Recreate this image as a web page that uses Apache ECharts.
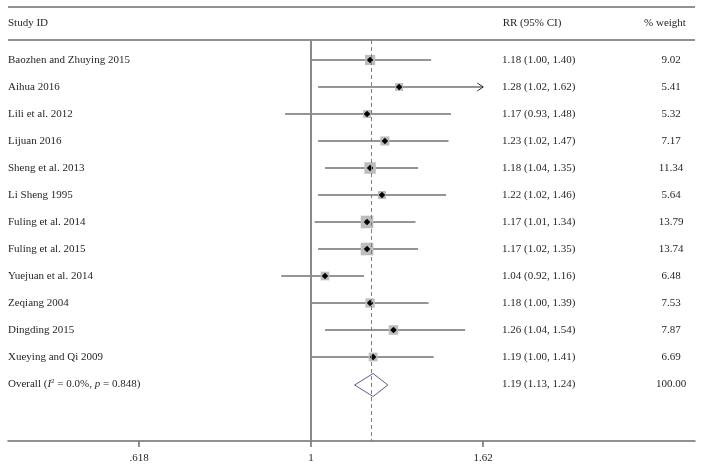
<!DOCTYPE html>
<html>
<head>
<meta charset="utf-8">
<title>Forest plot</title>
<script src="https://cdn.jsdelivr.net/npm/echarts@6/dist/echarts.min.js"></script>
<style>
  html, body { margin: 0; padding: 0; background: #fff; }
  #chart { width: 703px; height: 468px; }
</style>
</head>
<body>
<div id="chart"></div>
<script>
// 研究数据
var studies = ['Baozhen and Zhuying 2015', 'Aihua 2016', 'Lili et al. 2012', 'Lijuan 2016',
  'Sheng et al. 2013', 'Li Sheng 1995', 'Fuling et al. 2014', 'Fuling et al. 2015',
  'Yuejuan et al. 2014', 'Zeqiang 2004', 'Dingding 2015', 'Xueying and Qi 2009']
var rr = [1.18, 1.28, 1.17, 1.23, 1.18, 1.22, 1.17, 1.17, 1.04, 1.18, 1.26, 1.19]
var lower = [1.00, 1.02, 0.93, 1.02, 1.04, 1.02, 1.01, 1.02, 0.92, 1.00, 1.04, 1.00]
var upper = [1.40, 1.62, 1.48, 1.47, 1.35, 1.46, 1.34, 1.35, 1.16, 1.39, 1.54, 1.41]
var weight = ['9.02', '5.41', '5.32', '7.17', '11.34', '5.64', '13.79', '13.74', '6.48', '7.53', '7.87', '6.69']

var overallRR = 1.19
var overallLower = 1.13
var overallUpper = 1.24
var overallWeight = '100.00'

var tickValues = [0.618, 1, 1.62]
var tickLabels = ['.618', '1', '1.62']

var FONT = '11px "Liberation Serif", "DejaVu Serif", serif'
var TEXT = '#231f20'

function fmt(v) { return v.toFixed(2) }

var studyData = rr.map(function (v, i) {
  return [Math.log(v), Math.log(lower[i]), Math.log(upper[i]), i, parseFloat(weight[i])]
})

var chart = echarts.init(document.getElementById('chart'))

var option = {
  animation: false,
  backgroundColor: '#fff',
  grid: { left: 8, right: 8, top: 40, bottom: 27 },
  xAxis: {
    type: 'value',
    min: -0.8487,
    max: 1.0756,
    splitLine: { show: false },
    axisLine: { onZero: false, lineStyle: { color: '#6d6d6d', width: 1.5 } },
    axisTick: {
      customValues: tickValues.map(Math.log),
      length: 6,
      lineStyle: { color: '#6d6d6d', width: 1.5 }
    },
    axisLabel: {
      customValues: tickValues.map(Math.log),
      margin: 12,
      color: TEXT,
      fontFamily: '"Liberation Serif", serif',
      fontSize: 11,
      formatter: function (v) {
        for (var i = 0; i < tickValues.length; i++) {
          if (Math.abs(Math.log(tickValues[i]) - v) < 1e-6) return tickLabels[i]
        }
        return ''
      }
    }
  },
  yAxis: {
    type: 'value',
    inverse: true,
    min: -0.7407,
    max: 14.111,
    show: false
  },
  graphic: [
    { type: 'line', shape: { x1: 8, y1: 7, x2: 695, y2: 7 }, style: { stroke: '#6d6d6d', lineWidth: 1.5 } },
    { type: 'line', shape: { x1: 8, y1: 40, x2: 695, y2: 40 }, style: { stroke: '#6d6d6d', lineWidth: 1.5 } },
    { type: 'text', x: 8, y: 23, style: { text: 'Study ID', font: FONT, fill: TEXT, verticalAlign: 'middle' } },
    { type: 'text', x: 532, y: 23, style: { text: 'RR (95% CI)', font: FONT, fill: TEXT, align: 'center', verticalAlign: 'middle' } },
    { type: 'text', x: 665, y: 23, style: { text: '% weight', font: FONT, fill: TEXT, align: 'center', verticalAlign: 'middle' } }
  ],
  series: [
    {
      type: 'custom',
      name: 'studies',
      clip: false,
      data: studyData,
      renderItem: function (params, api) {
        var i = api.value(3)
        var p = api.coord([api.value(0), i])
        var lo = api.coord([api.value(1), i])
        var hi = api.coord([api.value(2), i])
        var y = p[1]
        var side = 3.4 * Math.sqrt(api.value(4))
        var children = [
          { type: 'line', shape: { x1: lo[0], y1: y, x2: hi[0], y2: y }, style: { stroke: '#2b2b2b', lineWidth: 1 } },
          { type: 'rect', shape: { x: p[0] - side / 2, y: y - side / 2, width: side, height: side }, style: { fill: '#bdbdbd' } },
          { type: 'polygon', shape: { points: [[p[0] - 3.3, y], [p[0], y - 3.3], [p[0] + 3.3, y], [p[0], y + 3.3]] }, style: { fill: '#000' } },
          { type: 'text', style: { text: studies[i], x: 8, y: y, font: FONT, fill: TEXT, verticalAlign: 'middle' } },
          { type: 'text', style: { text: fmt(rr[i]) + ' (' + fmt(lower[i]) + ', ' + fmt(upper[i]) + ')', x: 502, y: y, font: FONT, fill: TEXT, verticalAlign: 'middle' } },
          { type: 'text', style: { text: weight[i], x: 671, y: y, font: FONT, fill: TEXT, align: 'center', verticalAlign: 'middle' } }
        ]
        // CI 超出坐标范围时画箭头
        if (upper[i] >= tickValues[2]) {
          children.push({ type: 'polyline', shape: { points: [[hi[0] - 6, y - 4], [hi[0], y], [hi[0] - 6, y + 4]] }, style: { stroke: '#2b2b2b', lineWidth: 1, fill: null } })
        }
        return { type: 'group', children: children }
      },
      markLine: {
        silent: true,
        symbol: ['none', 'none'],
        label: { show: false },
        data: [
          { xAxis: 0, lineStyle: { color: '#8a8a8a', width: 2, type: 'solid' } },
          { xAxis: Math.log(overallRR), lineStyle: { color: '#9c6f72', width: 1, type: [4, 3] } }
        ]
      }
    },
    {
      type: 'custom',
      name: 'overall',
      clip: false,
      data: [[Math.log(overallRR), Math.log(overallLower), Math.log(overallUpper), studies.length]],
      renderItem: function (params, api) {
        var row = api.value(3)
        var p = api.coord([api.value(0), row])
        var lo = api.coord([api.value(1), row])
        var hi = api.coord([api.value(2), row])
        var y = p[1] + 1
        return {
          type: 'group',
          children: [
            { type: 'polygon', shape: { points: [[lo[0], y], [p[0], y - 11.5], [hi[0], y], [p[0], y + 11.5]] }, style: { fill: 'rgba(255,255,255,0)', stroke: '#5e5b8c', lineWidth: 1 } },
            {
              type: 'text',
              style: {
                text: 'Overall ({i|I}{sup|2} = 0.0%, {i|p} = 0.848)',
                x: 8, y: p[1], font: FONT, fill: TEXT, verticalAlign: 'middle',
                rich: {
                  i: { fontStyle: 'italic', fontFamily: '"Liberation Serif", serif', fontSize: 11, fill: TEXT },
                  sup: { fontSize: 7, fontFamily: '"Liberation Serif", serif', verticalAlign: 'top', padding: [0, 0, 6, 0], fill: TEXT }
                }
              }
            },
            { type: 'text', style: { text: fmt(overallRR) + ' (' + fmt(overallLower) + ', ' + fmt(overallUpper) + ')', x: 502, y: p[1], font: FONT, fill: TEXT, verticalAlign: 'middle' } },
            { type: 'text', style: { text: overallWeight, x: 671, y: p[1], font: FONT, fill: TEXT, align: 'center', verticalAlign: 'middle' } }
          ]
        }
      }
    }
  ]
}

chart.setOption(option)
window.addEventListener('resize', function () {
  chart.resize()
})
</script>
</body>
</html>
